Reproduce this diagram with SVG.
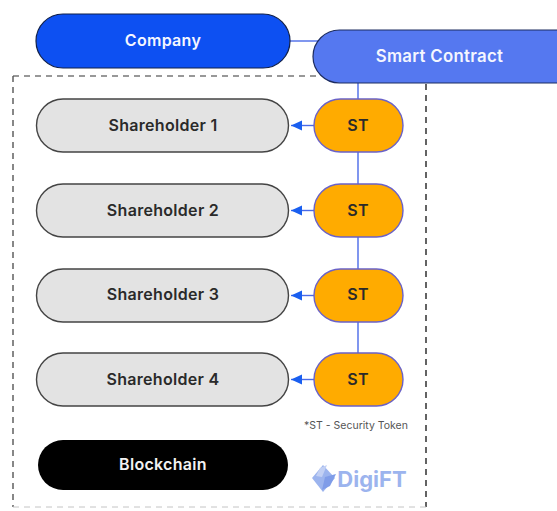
<svg xmlns="http://www.w3.org/2000/svg" width="557" height="511" viewBox="0 0 557 511">
<style>
text{font-family:"Inter","Liberation Sans",sans-serif;font-weight:600;text-anchor:middle;font-size:16px;letter-spacing:.3px}
.sh{fill:#e3e3e3;stroke:#444;stroke-width:1.4}
.st{fill:#ffab00;stroke:#6a62c8;stroke-width:1.4}
.dark{fill:#2a2a2a}
.white{fill:#f4f6ff}
.link{fill:none;stroke:#4a6ae8;stroke-width:1.4}
</style>
<defs><marker id="arr" markerWidth="12" markerHeight="12" refX="11" refY="5" orient="auto" markerUnits="userSpaceOnUse"><path d="M0,0L11,5L0,10Z" fill="#1a5ff0"/></marker></defs>
<rect width="557" height="511" fill="#fff"/>
<g id="frame" fill="none" stroke-dasharray="6 5">
<path d="M426,84V507" stroke="#222" stroke-width="1.4"/>
<path d="M13,76H316" stroke="#777" stroke-width="1.4"/>
<path d="M13,76V507" stroke="#555" stroke-width="1.4"/>
<path d="M13,507H426" stroke="#c4c4c4" stroke-width="1"/>
</g>
<g id="connectors">
<path class="link" d="M290,41H318"/>
<path class="link" d="M358,83V353"/>
<path class="link" d="M314,125.500H291" marker-end="url(#arr)"/>
<path class="link" d="M314,210.500H291" marker-end="url(#arr)"/>
<path class="link" d="M314,295.500H291" marker-end="url(#arr)"/>
<path class="link" d="M314,379.500H291" marker-end="url(#arr)"/>
</g>
<g id="company"><rect x="36" y="14" width="254" height="54" rx="27" fill="#0d50f2" stroke="#10204a" stroke-width="1.2"/><text x="163" y="46" class="white">Company</text></g>
<g id="smart-contract"><rect x="313" y="30" width="270" height="53" rx="26.500" fill="#5578f0" stroke="#1d2c60" stroke-width="1.2"/><text x="439.500" y="62" class="white" style="font-size:16.800px">Smart Contract</text></g>
<g id="shareholder-1"><rect class="sh" x="36.500" y="99" width="252" height="53" rx="26.500"/><text x="163" y="131" class="dark">Shareholder 1</text></g>
<g id="st-1"><rect class="st" x="314" y="99" width="89" height="53" rx="26.500"/><text x="358" y="131" class="dark">ST</text></g>
<g id="shareholder-2"><rect class="sh" x="36.500" y="184" width="252" height="53" rx="26.500"/><text x="163" y="216" class="dark">Shareholder 2</text></g>
<g id="st-2"><rect class="st" x="314" y="184" width="89" height="53" rx="26.500"/><text x="358" y="216" class="dark">ST</text></g>
<g id="shareholder-3"><rect class="sh" x="36.500" y="269" width="252" height="53" rx="26.500"/><text x="163" y="300" class="dark">Shareholder 3</text></g>
<g id="st-3"><rect class="st" x="314" y="269" width="89" height="53" rx="26.500"/><text x="358" y="300" class="dark">ST</text></g>
<g id="shareholder-4"><rect class="sh" x="36.500" y="353" width="252" height="53" rx="26.500"/><text x="163" y="385" class="dark">Shareholder 4</text></g>
<g id="st-4"><rect class="st" x="314" y="353" width="89" height="53" rx="26.500"/><text x="358" y="385" class="dark">ST</text></g>
<g id="blockchain"><rect x="38" y="440" width="250" height="50" rx="25" fill="#000"/><text x="163" y="470" fill="#f2f2f2">Blockchain</text></g>
<g id="note"><text x="356" y="429" style="font-size:10.500px;font-weight:400;letter-spacing:0" fill="#555">*ST - Security Token</text></g>
<g id="logo">
<path d="M323,465L335,478L323,492L312,478Z" fill="#9cb4ee"/>
<path d="M320,468L327,465L322,477L316,476Z" fill="#c2d0f4"/>
<path d="M325,477L336,474L330,486L322,490Z" fill="#7f9ce8"/>
<text x="372" y="487" style="font-size:22px;font-weight:700;letter-spacing:0" fill="#9cb4ee">DigiFT</text>
</g>
</svg>
